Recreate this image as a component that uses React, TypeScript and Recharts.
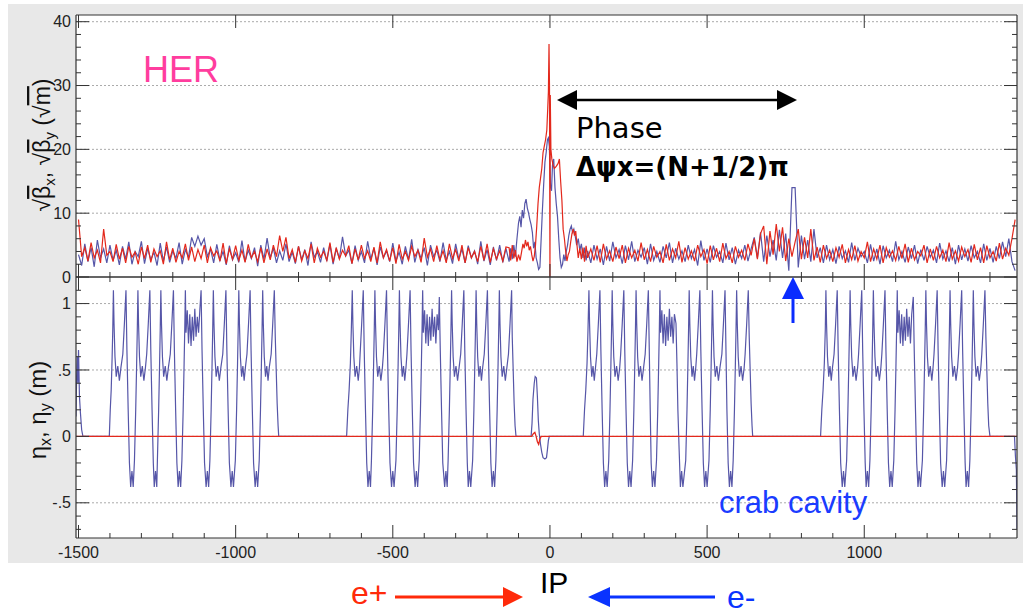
import React from "react";
import { LineChart, Line, XAxis, YAxis, ReferenceLine } from "recharts";

// s (m) measured from the IP
const S_DOMAIN: [number, number] = [-1508, 1486];
const X_MAJOR = [-1500, -1000, -500, 0, 500, 1000];
const X_MINOR = [
  -1500, -1400, -1300, -1200, -1100, -1000, -900, -800, -700, -600, -500, -400, -300, -200, -100,
  0, 100, 200, 300, 400, 500, 600, 700, 800, 900, 1000, 1100, 1200, 1300, 1400,
];

const BETA_DOMAIN: [number, number] = [0, 41.05];
const BETA_TICKS = [0, 2, 4, 6, 8, 10, 12, 14, 16, 18, 20, 22, 24, 26, 28, 30, 32, 34, 36, 38, 40];
const BETA_GRID = [10, 20, 30, 40];

const ETA_DOMAIN: [number, number] = [-0.765, 1.2];
const ETA_TICKS = [-0.7, -0.6, -0.5, -0.4, -0.3, -0.2, -0.1, 0, 0.1, 0.2, 0.3, 0.4, 0.5, 0.6, 0.7, 0.8, 0.9, 1, 1.1];
const ETA_GRID = [-0.5, 0, 0.5, 1];

// sqrt(beta) sampled every 10 m in the arcs
const BG_STEP = 10;
const LEFT_START = -1500; // ... -140
const RIGHT_START = 130; // ... 1480

const betaXLeft = [
  3.5, 1.8, 5.2, 2.4, 4.6, 1.6, 5.8, 3.0, 4.4, 2.2,
  5.0, 2.6, 4.2, 1.9, 4.8, 2.8, 5.5, 2.0, 4.0, 3.2,
  5.6, 2.1, 4.5, 2.7, 3.9, 1.8, 5.3, 2.5, 4.7, 2.3,
  4.1, 2.9, 5.4, 2.0, 4.3, 3.1, 6.2, 4.8, 6.4, 5.0,
  6.0, 3.2, 4.4, 2.2, 5.1, 2.6, 4.0, 1.9, 4.9, 2.7,
  3.8, 2.3, 5.7, 2.4, 4.2, 2.9, 4.6, 1.7, 5.0, 2.8,
  6.1, 3.0, 4.5, 2.2, 4.1, 2.6, 5.2, 2.4, 3.9, 2.1,
  4.8, 2.7, 4.3, 1.8, 5.5, 3.1, 4.0, 2.3, 4.6, 2.5,
  5.1, 2.0, 4.4, 2.9, 6.3, 3.3, 4.2, 2.1, 4.9, 2.6,
  4.0, 2.2, 5.6, 2.8, 4.5, 1.9, 4.7, 3.0, 4.1, 2.4,
  5.3, 2.5, 3.9, 2.0, 4.8, 2.7, 5.9, 2.3, 4.3, 2.9,
  4.6, 1.8, 5.0, 3.2, 4.2, 2.4, 5.4, 2.6, 4.0, 2.1,
  5.2, 2.8, 4.4, 2.2, 4.9, 3.0, 4.1, 2.0, 5.6, 2.5,
  4.3, 1.9, 4.7, 2.6, 5.0, 2.3, 4.5,
];

const betaYLeft = [
  9.0, 3.2, 4.6, 2.5, 5.4, 3.0, 4.2, 2.2, 7.5, 3.4,
  4.0, 2.4, 5.1, 2.8, 4.5, 2.2, 4.8, 3.1, 3.9, 2.0,
  4.7, 2.9, 5.0, 2.3, 4.4, 3.2, 4.1, 2.0, 5.5, 2.7,
  4.5, 2.3, 4.0, 3.0, 5.2, 2.6, 4.7, 2.4, 4.3, 2.9,
  5.0, 2.2, 4.6, 3.3, 4.1, 2.5, 5.3, 2.1, 4.4, 2.8,
  4.9, 2.6, 4.2, 2.3, 5.1, 3.0, 4.0, 2.4, 4.6, 2.2,
  4.4, 2.7, 5.0, 3.2, 6.5, 4.0, 6.2, 2.9, 4.3, 2.3,
  4.8, 2.5, 4.1, 2.9, 5.2, 2.2, 4.5, 3.1, 4.0, 2.6,
  5.4, 2.3, 4.6, 2.8, 4.2, 3.3, 4.9, 2.1, 4.4, 2.7,
  5.0, 2.9, 4.1, 2.4, 4.7, 2.2, 5.5, 3.0, 4.3, 2.5,
  4.6, 2.1, 5.1, 2.8, 4.0, 2.6, 4.8, 3.2, 4.2, 2.3,
  6.1, 3.1, 4.4, 2.4, 4.9, 2.7, 4.1, 2.2, 5.2, 2.9,
  4.3, 2.5, 5.0, 2.2, 4.6, 3.0, 4.0, 2.4, 4.8, 2.6,
  5.2, 2.3, 4.4, 2.8, 4.1, 2.5, 4.7,
];

// interaction region, [s, sqrt(beta)]
const betaXIR: [number, number][] = [
  [-130, 2.4], [-125, 4.5], [-120, 2.8], [-115, 5.0], [-110, 3.2], [-105, 6.0], [-100, 8.5], [-96, 9.5],
  [-92, 7.8], [-88, 10.5], [-84, 9.2], [-80, 11.5], [-76, 12.2], [-72, 10.8], [-68, 10.0], [-64, 9.0],
  [-60, 8.2], [-56, 7.0], [-52, 4.5], [-48, 5.5], [-44, 3.0], [-40, 2.2], [-36, 1.2], [-32, 1.5],
  [-28, 6.0], [-24, 10.5], [-20, 14.5], [-16, 18.0], [-12, 19.5], [-8, 21.5], [-5, 21.8], [-2, 20.5],
  [0, 17.0], [2, 14.0], [5, 13.5], [8, 17.5], [12, 18.5], [16, 14.0], [20, 11.5], [24, 9.5],
  [28, 6.0], [32, 3.0], [36, 1.5], [40, 2.0], [44, 3.5], [48, 2.5], [52, 4.0], [56, 5.0],
  [60, 6.5], [64, 7.5], [68, 8.0], [72, 7.0], [76, 7.5], [80, 6.5], [85, 5.0], [90, 6.0],
  [95, 4.2], [100, 5.2], [105, 3.0], [110, 4.6], [115, 2.6], [120, 4.1],
];

const betaYIR: [number, number][] = [
  [-130, 4.6], [-125, 2.6], [-120, 5.0], [-115, 2.9], [-110, 4.2], [-105, 2.4], [-100, 3.5], [-95, 2.6],
  [-90, 4.0], [-86, 5.2], [-82, 4.5], [-78, 5.8], [-74, 4.8], [-70, 5.5], [-66, 4.2], [-62, 4.8],
  [-58, 3.5], [-54, 2.5], [-50, 3.2], [-46, 5.0], [-42, 8.0], [-38, 11.5], [-34, 14.0], [-30, 15.5],
  [-26, 17.0], [-22, 19.5], [-18, 20.5], [-14, 21.5], [-10, 23.0], [-7, 26.5], [-5, 29.0], [-3, 36.5],
  [-1.5, 30.0], [0, 0], [1, 28.5], [3, 20.0], [6, 18.5], [10, 17.5], [14, 17.0], [18, 17.2],
  [22, 17.5], [26, 17.8], [30, 18.5], [34, 15.0], [38, 12.0], [42, 7.5], [46, 6.0], [50, 4.0],
  [54, 2.5], [58, 3.5], [62, 4.0], [66, 5.5], [70, 6.8], [74, 7.5], [78, 6.5], [82, 7.2],
  [86, 5.0], [90, 3.0], [95, 4.5], [100, 2.8], [105, 4.6], [110, 2.4], [115, 4.9], [120, 3.0],
];

const betaXRight = [
  2.2, 5.0, 2.8, 4.4, 1.9, 4.8, 2.5, 5.5, 3.0,
  4.3, 2.1, 4.9, 2.7, 5.6, 2.4, 4.2, 3.1, 4.6, 2.0,
  5.2, 2.6, 4.0, 2.3, 4.8, 3.0, 5.4, 2.2, 4.5, 2.8,
  4.1, 2.4, 5.0, 2.9, 4.3, 1.8, 5.7, 2.6, 4.4, 2.3,
  4.9, 3.1, 4.0, 2.2, 5.3, 2.7, 4.6, 2.0, 4.2, 2.9,
  5.0, 2.5, 4.4, 6.2, 3.0, 7.0, 2.4, 6.5, 3.2, 5.8,
  2.6, 7.4, 3.0, 6.8, 1.0, 14.0, 14.0, 1.5, 6.5, 2.8,
  5.8, 2.4, 7.5, 3.0, 4.6, 2.2, 5.0, 2.7, 4.3, 2.1,
  4.8, 2.9, 4.1, 2.3, 5.4, 2.6, 4.5, 3.2, 4.0, 2.2,
  5.1, 2.5, 4.4, 2.0, 4.9, 3.0, 4.2, 2.4, 5.6, 2.7,
  4.0, 2.3, 4.7, 2.9, 5.0, 2.1, 4.3, 2.6, 4.8, 3.1,
  4.2, 2.2, 5.3, 2.8, 4.1, 2.4, 4.6, 2.0, 5.0, 2.7,
  4.4, 2.5, 4.9, 3.0, 4.0, 2.2, 5.2, 2.6, 4.5, 2.3,
  4.8, 2.9, 5.5, 3.2, 6.0, 2.4, 1.0,
];

const betaYRight = [
  4.4, 2.6, 4.9, 2.3, 5.2, 2.8, 4.1, 2.4, 4.7,
  2.9, 5.0, 2.2, 4.5, 3.0, 4.2, 2.5, 5.4, 2.7, 4.3,
  2.4, 4.8, 3.1, 4.0, 2.2, 5.1, 2.6, 4.4, 3.0, 5.6,
  2.3, 4.6, 2.8, 4.1, 2.5, 5.0, 3.2, 4.3, 2.1, 4.9,
  2.7, 4.5, 2.4, 5.3, 2.9, 4.0, 2.2, 4.8, 3.1, 4.2,
  2.6, 5.2, 3.4, 6.0, 2.8, 6.8, 8.0, 2.0, 7.2, 3.5,
  8.3, 4.0, 7.8, 2.5, 6.0, 3.2, 5.5, 7.5, 2.8, 6.2,
  3.0, 7.5, 2.6, 4.7, 2.3, 5.0, 2.9, 4.2, 2.4, 4.6,
  3.1, 5.1, 2.2, 4.3, 2.7, 4.9, 2.5, 4.0, 3.0, 5.5,
  2.4, 4.4, 2.8, 5.0, 2.2, 4.6, 3.1, 4.1, 2.6, 4.8,
  2.9, 5.2, 2.3, 4.5, 2.7, 4.0, 3.3, 5.0, 2.2, 4.4,
  2.6, 4.8, 3.0, 4.2, 2.4, 5.4, 2.8, 4.1, 2.5, 4.7,
  3.2, 4.3, 2.3, 5.1, 2.7, 4.6, 2.2, 4.9, 3.0, 4.0,
  2.5, 5.3, 2.8, 4.5, 3.4, 6.0, 9.0,
];

// horizontal dispersion, [s, eta_x]
const etaXLeftEdge: [number, number][] = [
  [-1508, 0.15], [-1506, 0.45], [-1504, 0.6], [-1502, 0.4], [-1500, 0.65], [-1497, 0.3], [-1494, 0.18],
  [-1490, 0.05], [-1486, 0],
];

const etaXArc1: [number, number][] = [
  [-1402, 0], [-1399, 0.2], [-1396, 0.35], [-1393, 0.6], [-1391, 0.8],
  [-1389, 1.1], [-1387, 0.85], [-1384, 0.6], [-1380, 0.45], [-1375, 0.53], [-1370, 0.42], [-1365, 0.52], [-1359, 0.62], [-1354, 0.85], [-1349, 1.1],
  [-1346, 0.65], [-1342, 0.2], [-1338, -0.2], [-1334, -0.38], [-1330, -0.26], [-1326, -0.38], [-1322, -0.18], [-1318, 0.2], [-1315, 0.55], [-1313, 0.8],
  [-1311, 1.1], [-1309, 0.85], [-1306, 0.6], [-1302, 0.45], [-1297, 0.53], [-1292, 0.42], [-1287, 0.52], [-1283, 0.62], [-1278, 0.85], [-1273, 1.1],
  [-1270, 0.65], [-1266, 0.2], [-1262, -0.2], [-1259, -0.38], [-1255, -0.26], [-1251, -0.38], [-1249, -0.18], [-1245, 0.2], [-1242, 0.55], [-1240, 0.8],
  [-1238, 1.1], [-1236, 0.85], [-1233, 0.6], [-1229, 0.45], [-1224, 0.53], [-1219, 0.42], [-1214, 0.52], [-1208, 0.62], [-1203, 0.85], [-1198, 1.1],
  [-1195, 0.65], [-1191, 0.2], [-1187, -0.2], [-1183, -0.38], [-1179, -0.26], [-1175, -0.38], [-1171, -0.18], [-1167, 0.2], [-1164, 0.55], [-1162, 0.8],
  [-1160, 1.1], [-1158, 0.78], [-1154, 0.95], [-1150, 0.7], [-1146, 0.92], [-1142, 0.68], [-1138, 0.9], [-1134, 0.72], [-1130, 0.96], [-1126, 0.75], [-1122, 0.9], [-1118, 0.78], [-1114, 0.95], [-1110, 1.1],
  [-1107, 0.65], [-1103, 0.2], [-1099, -0.2], [-1094, -0.38], [-1090, -0.26], [-1086, -0.38], [-1082, -0.18], [-1078, 0.2], [-1075, 0.55], [-1073, 0.8],
  [-1071, 1.1], [-1069, 0.85], [-1066, 0.6], [-1062, 0.45], [-1057, 0.53], [-1052, 0.42], [-1047, 0.52], [-1041, 0.62], [-1036, 0.85], [-1031, 1.1],
  [-1028, 0.65], [-1024, 0.2], [-1020, -0.2], [-1015, -0.38], [-1011, -0.26], [-1007, -0.38], [-1001, -0.18], [-997, 0.2], [-994, 0.55], [-992, 0.8],
  [-990, 1.1], [-988, 0.85], [-985, 0.6], [-981, 0.45], [-977, 0.53], [-973, 0.42], [-969, 0.52], [-964, 0.62], [-959, 0.85], [-954, 1.1],
  [-951, 0.65], [-947, 0.2], [-943, -0.2], [-938, -0.38], [-934, -0.26], [-930, -0.38], [-925, -0.18], [-921, 0.2], [-918, 0.55], [-916, 0.8],
  [-914, 1.1], [-912, 0.85], [-909, 0.6], [-905, 0.45], [-901, 0.53], [-897, 0.42], [-893, 0.52], [-887, 0.62], [-882, 0.85], [-877, 1.1],
  [-874, 0.75], [-871, 0.5], [-868, 0.25], [-865, 0.08], [-863, 0],
];

const etaXArc2: [number, number][] = [
  [-647, 0], [-643, 0.2], [-639, 0.35], [-635, 0.55], [-632, 0.8],
  [-629, 1.1], [-627, 0.85], [-624, 0.6], [-620, 0.45], [-615, 0.53], [-610, 0.42], [-606, 0.52], [-604, 0.62], [-599, 0.85], [-594, 1.1],
  [-591, 0.65], [-587, 0.2], [-583, -0.2], [-579, -0.38], [-575, -0.26], [-571, -0.38], [-568, -0.18], [-564, 0.2], [-561, 0.55], [-559, 0.8],
  [-557, 1.1], [-555, 0.85], [-552, 0.6], [-548, 0.45], [-543, 0.53], [-538, 0.42], [-533, 0.52], [-530, 0.62], [-525, 0.85], [-520, 1.1],
  [-517, 0.65], [-513, 0.2], [-509, -0.2], [-504, -0.38], [-500, -0.26], [-496, -0.38], [-490, -0.18], [-486, 0.2], [-483, 0.55], [-481, 0.8],
  [-479, 1.1], [-477, 0.85], [-474, 0.6], [-470, 0.45], [-466, 0.53], [-462, 0.42], [-458, 0.52], [-455, 0.62], [-450, 0.85], [-445, 1.1],
  [-442, 0.65], [-438, 0.2], [-434, -0.2], [-429, -0.38], [-425, -0.26], [-421, -0.38], [-416, -0.18], [-412, 0.2], [-409, 0.55], [-407, 0.8],
  [-405, 1.1], [-403, 0.78], [-399, 0.95], [-395, 0.7], [-391, 0.92], [-387, 0.68], [-383, 0.9], [-379, 0.72], [-375, 0.96], [-371, 0.75], [-367, 0.9], [-363, 0.7], [-359, 0.92], [-355, 0.8], [-352, 1.05],
  [-349, 0.65], [-345, 0.2], [-341, -0.2], [-335, -0.38], [-331, -0.26], [-327, -0.38], [-324, -0.18], [-320, 0.2], [-317, 0.55], [-315, 0.8],
  [-313, 1.1], [-311, 0.85], [-308, 0.6], [-304, 0.45], [-299, 0.53], [-294, 0.42], [-289, 0.52], [-284, 0.62], [-279, 0.85], [-274, 1.1],
  [-271, 0.65], [-267, 0.2], [-263, -0.2], [-260, -0.38], [-256, -0.26], [-252, -0.38], [-246, -0.18], [-242, 0.2], [-239, 0.55], [-237, 0.8],
  [-235, 1.1], [-233, 0.85], [-230, 0.6], [-226, 0.45], [-222, 0.53], [-218, 0.42], [-214, 0.52], [-209, 0.62], [-204, 0.85], [-199, 1.1],
  [-196, 0.65], [-192, 0.2], [-188, -0.2], [-184, -0.38], [-180, -0.26], [-176, -0.38], [-172, -0.18], [-168, 0.2], [-165, 0.55], [-163, 0.8],
  [-161, 1.1], [-159, 0.85], [-156, 0.6], [-152, 0.45], [-147, 0.53], [-142, 0.42], [-137, 0.52], [-132, 0.62], [-127, 0.85], [-122, 1.1],
  [-120, 0.75], [-117, 0.5], [-114, 0.25], [-111, 0.08], [-108, 0],
];

const etaXIR: [number, number][] = [
  [-60, 0], [-57, 0.1], [-54, 0.28], [-50, 0.4], [-47, 0.45], [-43, 0.44], [-40, 0.3], [-37, 0.12], [-34, 0.02],
  [-30, -0.06], [-26, -0.12], [-22, -0.16], [-16, -0.17], [-11, -0.16], [-8, -0.1], [-5, -0.03], [-2, 0],
];

const etaXArc3: [number, number][] = [
  [106, 0], [110, 0.2], [114, 0.35], [118, 0.55], [121, 0.8],
  [124, 1.1], [126, 0.85], [129, 0.6], [133, 0.45], [137, 0.53], [141, 0.42], [145, 0.52], [149, 0.62], [154, 0.85], [159, 1.1],
  [162, 0.65], [166, 0.2], [170, -0.2], [174, -0.38], [178, -0.26], [182, -0.38], [187, -0.18], [191, 0.2], [194, 0.55], [196, 0.8],
  [198, 1.1], [200, 0.85], [203, 0.6], [207, 0.45], [212, 0.53], [217, 0.42], [222, 0.52], [225, 0.62], [230, 0.85], [235, 1.1],
  [238, 0.65], [242, 0.2], [246, -0.2], [250, -0.38], [254, -0.26], [258, -0.38], [263, -0.18], [267, 0.2], [270, 0.55], [272, 0.8],
  [274, 1.1], [276, 0.85], [279, 0.6], [283, 0.45], [288, 0.53], [293, 0.42], [298, 0.52], [303, 0.62], [308, 0.85], [313, 1.1],
  [316, 0.65], [319, 0.2], [322, -0.2], [326, -0.38], [330, -0.26], [334, -0.38], [339, -0.18], [343, 0.2], [346, 0.55], [348, 0.8],
  [350, 1.1], [352, 0.78], [356, 0.95], [360, 0.7], [364, 0.92], [368, 0.68], [372, 0.9], [376, 0.72], [380, 0.96], [384, 0.75], [388, 0.9], [392, 0.7], [396, 0.92], [401, 0.85],
  [404, 0.55], [407, 0.2], [411, -0.1], [415, -0.38], [419, -0.26], [423, -0.38], [432, -0.18], [436, 0.2], [439, 0.55], [441, 0.8],
  [443, 1.1], [445, 0.85], [448, 0.6], [452, 0.45], [456, 0.53], [460, 0.42], [464, 0.52], [467, 0.62], [472, 0.85], [477, 1.1],
  [480, 0.65], [484, 0.2], [488, -0.2], [492, -0.38], [496, -0.26], [500, -0.38], [506, -0.18], [510, 0.2], [513, 0.55], [515, 0.8],
  [517, 1.1], [519, 0.85], [522, 0.6], [526, 0.45], [531, 0.53], [536, 0.42], [541, 0.52], [547, 0.62], [552, 0.85], [557, 1.1],
  [560, 0.65], [563, 0.2], [567, -0.2], [571, -0.38], [575, -0.26], [579, -0.38], [583, -0.18], [587, 0.2], [590, 0.55], [592, 0.8],
  [594, 1.1], [596, 0.85], [599, 0.6], [603, 0.45], [608, 0.53], [613, 0.42], [618, 0.52], [621, 0.62], [626, 0.85], [631, 1.1],
  [634, 0.75], [637, 0.5], [640, 0.25], [643, 0.08], [645, 0],
];

const etaXArc4: [number, number][] = [
  [861, 0], [865, 0.2], [869, 0.35], [873, 0.55], [876, 0.8],
  [878, 1.1], [880, 0.85], [883, 0.6], [887, 0.45], [891, 0.53], [895, 0.42], [899, 0.52], [904, 0.62], [909, 0.85], [914, 1.1],
  [917, 0.65], [921, 0.2], [925, -0.2], [930, -0.38], [934, -0.26], [938, -0.38], [944, -0.18], [948, 0.2], [951, 0.55], [953, 0.8],
  [955, 1.1], [957, 0.85], [960, 0.6], [964, 0.45], [969, 0.53], [974, 0.42], [979, 0.52], [982, 0.62], [987, 0.85], [992, 1.1],
  [995, 0.65], [999, 0.2], [1003, -0.2], [1006, -0.38], [1010, -0.26], [1014, -0.38], [1018, -0.18], [1022, 0.2], [1025, 0.55], [1027, 0.8],
  [1029, 1.1], [1031, 0.85], [1034, 0.6], [1038, 0.45], [1043, 0.53], [1048, 0.42], [1053, 0.52], [1056, 0.62], [1061, 0.85], [1066, 1.1],
  [1069, 0.65], [1073, 0.2], [1077, -0.2], [1081, -0.38], [1085, -0.26], [1089, -0.38], [1094, -0.18], [1098, 0.2], [1101, 0.55], [1103, 0.8],
  [1105, 1.1], [1107, 0.78], [1111, 0.95], [1115, 0.7], [1119, 0.92], [1123, 0.68], [1127, 0.9], [1131, 0.72], [1135, 0.96], [1139, 0.75], [1143, 0.9], [1147, 0.7], [1151, 0.92], [1156, 1.05],
  [1159, 0.65], [1163, 0.2], [1167, -0.2], [1171, -0.38], [1175, -0.26], [1179, -0.38], [1185, -0.18], [1189, 0.2], [1192, 0.55], [1194, 0.8],
  [1196, 1.1], [1198, 0.85], [1201, 0.6], [1205, 0.45], [1210, 0.53], [1215, 0.42], [1219, 0.52], [1222, 0.62], [1227, 0.85], [1232, 1.1],
  [1235, 0.65], [1239, 0.2], [1243, -0.2], [1248, -0.38], [1252, -0.26], [1256, -0.38], [1262, -0.18], [1266, 0.2], [1269, 0.55], [1271, 0.8],
  [1273, 1.1], [1275, 0.85], [1278, 0.6], [1282, 0.45], [1287, 0.53], [1292, 0.42], [1297, 0.52], [1300, 0.62], [1305, 0.85], [1310, 1.1],
  [1313, 0.65], [1317, 0.2], [1321, -0.2], [1324, -0.38], [1328, -0.26], [1332, -0.38], [1336, -0.18], [1340, 0.2], [1343, 0.55], [1345, 0.8],
  [1347, 1.1], [1349, 0.85], [1352, 0.6], [1356, 0.45], [1361, 0.53], [1366, 0.42], [1371, 0.52], [1374, 0.62], [1379, 0.85], [1384, 1.1],
  [1387, 0.75], [1390, 0.5], [1393, 0.25], [1396, 0.08], [1400, 0],
];

const etaXRightEdge: [number, number][] = [[1478, 0], [1481, -0.15], [1484, -0.25], [1486, -0.7]];

// vertical dispersion, [s, eta_y]
const etaY: [number, number][] = [
  [-1508, 0], [-58, 0], [-53, 0.02], [-48, 0.03], [-44, 0], [-40, -0.04], [-36, -0.06], [-32, -0.02], [-28, 0], [1486, 0],
];

const BLUE = "#5656a8";
const RED = "#e3281c";
const AXIS = "#333";
const GRID = "#aaaaaa";
const FONT = "'Liberation Sans', Arial, Helvetica, sans-serif";

const onGrid = (start: number, vals: number[]) => vals.map((y, i) => ({ x: start + i * BG_STEP, y }));
const pairs = (p: [number, number][]) => p.map(([x, y]) => ({ x, y }));

const betaX = [...onGrid(LEFT_START, betaXLeft), ...pairs(betaXIR), ...onGrid(RIGHT_START, betaXRight)];
const betaY = [...onGrid(LEFT_START, betaYLeft), ...pairs(betaYIR), ...onGrid(RIGHT_START, betaYRight)];
const etaX = pairs([
  ...etaXLeftEdge, ...etaXArc1, ...etaXArc2, ...etaXIR, ...etaXArc3, ...etaXArc4, ...etaXRightEdge,
]);
const etaYData = pairs(etaY);

function XTick(props: any) {
  const { x, y, payload, up = 0, down = 0, upMinor = 0, downMinor = 0, label = false } = props;
  const v = payload.value;
  const major = v % 500 === 0;
  const u = major ? up : upMinor;
  const d = major ? down : downMinor;
  return (
    <g>
      {u + d > 0 && <line x1={x} x2={x} y1={y - u} y2={y + d} stroke={AXIS} />}
      {label && major && (
        <text x={x} y={y + 20} textAnchor="middle" fontSize={16} fontFamily={FONT} fill="#222">
          {v}
        </text>
      )}
    </g>
  );
}

function YTick(props: any) {
  const { x, y, payload, side, step, fmt } = props;
  const v = payload.value;
  const major = Math.abs(v / step - Math.round(v / step)) < 1e-6;
  const len = major ? 13 : 5;
  const x2 = side === "left" ? x + len : x - len;
  return (
    <g>
      <line x1={x} x2={x2} y1={y} y2={y} stroke={AXIS} />
      {fmt && major && (
        <text x={x - 5} y={y} dy="0.35em" textAnchor="end" fontSize={16} fontFamily={FONT} fill="#222">
          {fmt(v)}
        </text>
      )}
    </g>
  );
}

const fmtEta = (v: number) => {
  if (Math.abs(v) < 1e-9) return "0";
  if (Math.abs(v - 1) < 1e-9) return "1";
  return (v < 0 ? "-" : "") + "." + String(Math.round(Math.abs(v) * 10));
};

const axisCommon = {
  type: "number" as const,
  allowDataOverflow: true,
  tickSize: 0,
  tickMargin: 0,
  tickLine: false,
  interval: 0 as const,
  axisLine: { stroke: AXIS, strokeWidth: 1.2 },
};

// axes are 1px thick so that recharts still draws them; margins make up for it
function BetaPanel() {
  return (
    <LineChart width={1023} height={300} margin={{ top: 14, right: 5, bottom: 22, left: 75 }}>
      <XAxis {...axisCommon} xAxisId="b" dataKey="x" domain={S_DOMAIN} ticks={X_MINOR} height={1}
        tick={<XTick up={13} upMinor={5} />} />
      <XAxis {...axisCommon} xAxisId="t" orientation="top" dataKey="x" domain={S_DOMAIN} ticks={X_MAJOR} height={1}
        tick={<XTick down={13} />} />
      <YAxis {...axisCommon} yAxisId="l" domain={BETA_DOMAIN} ticks={BETA_TICKS} width={1}
        tick={<YTick side="left" step={10} fmt={(v: number) => String(v)} />} />
      <YAxis {...axisCommon} yAxisId="r" orientation="right" domain={BETA_DOMAIN} ticks={BETA_TICKS} width={1}
        tick={<YTick side="right" step={10} />} />
      {BETA_GRID.map((g) => (
        <ReferenceLine key={g} y={g} xAxisId="b" yAxisId="l" stroke={GRID} strokeDasharray="2 2" />
      ))}
      <Line xAxisId="b" yAxisId="l" data={betaX} dataKey="y" type="linear" stroke={BLUE} strokeWidth={1.2}
        dot={false} isAnimationActive={false} />
      <Line xAxisId="b" yAxisId="l" data={betaY} dataKey="y" type="linear" stroke={RED} strokeWidth={1.2}
        dot={false} isAnimationActive={false} />
    </LineChart>
  );
}

function EtaPanel() {
  return (
    <LineChart width={1023} height={354} margin={{ top: 16, right: 5, bottom: 75, left: 75 }}>
      <XAxis {...axisCommon} xAxisId="b" dataKey="x" domain={S_DOMAIN} ticks={X_MINOR} height={1}
        tick={<XTick up={13} upMinor={5} label />} />
      <XAxis {...axisCommon} xAxisId="t" orientation="top" dataKey="x" domain={S_DOMAIN} ticks={X_MINOR} height={1}
        tick={<XTick down={13} downMinor={5} />} />
      <YAxis {...axisCommon} yAxisId="l" domain={ETA_DOMAIN} ticks={ETA_TICKS} width={1}
        tick={<YTick side="left" step={0.5} fmt={fmtEta} />} />
      <YAxis {...axisCommon} yAxisId="r" orientation="right" domain={ETA_DOMAIN} ticks={ETA_TICKS} width={1}
        tick={<YTick side="right" step={0.5} />} />
      {ETA_GRID.map((g) => (
        <ReferenceLine key={g} y={g} xAxisId="b" yAxisId="l" stroke={GRID} strokeDasharray="2 2" />
      ))}
      <Line xAxisId="b" yAxisId="l" data={etaX} dataKey="y" type="linear" stroke={BLUE} strokeWidth={1.2}
        dot={false} isAnimationActive={false} />
      <Line xAxisId="b" yAxisId="l" data={etaYData} dataKey="y" type="linear" stroke={RED} strokeWidth={1.3}
        dot={false} isAnimationActive={false} />
    </LineChart>
  );
}

export default function App() {
  return (
    <div style={{ position: "absolute", left: 0, top: 0, width: 1023, height: 614, background: "#fff", overflow: "hidden" }}>
      <div style={{ position: "absolute", left: 8, top: 4, width: 1015, height: 559, background: "#e8e8e8" }} />
      <div style={{ position: "absolute", left: 76, top: 15, width: 941, height: 523, background: "#fff" }} />
      <div style={{ position: "absolute", left: 0, top: 0 }}>
        <BetaPanel />
      </div>
      <div style={{ position: "absolute", left: 0, top: 260 }}>
        <EtaPanel />
      </div>
      <svg width={1023} height={614} style={{ position: "absolute", left: 0, top: 0, pointerEvents: "none" }}>
        {/* axis titles */}
        <text transform="translate(50,145) rotate(-90)" textAnchor="middle" fontSize={23} fontFamily={FONT} fill="#111">
          <tspan>√</tspan>
          <tspan style={{ textDecoration: "overline" }}>β</tspan>
          <tspan dy={5} fontSize={15}>x</tspan>
          <tspan dy={-5}>, √</tspan>
          <tspan style={{ textDecoration: "overline" }}>β</tspan>
          <tspan dy={5} fontSize={15}>y</tspan>
          <tspan dy={-5}> (√</tspan>
          <tspan style={{ textDecoration: "overline" }}>m</tspan>
          <tspan>)</tspan>
        </text>
        <text transform="translate(46,410) rotate(-90)" textAnchor="middle" fontSize={24} fontFamily={FONT} fill="#111">
          <tspan>η</tspan>
          <tspan dy={5} fontSize={16}>x</tspan>
          <tspan dy={-5}>, η</tspan>
          <tspan dy={5} fontSize={16}>y</tspan>
          <tspan dy={-5}> (m)</tspan>
        </text>

        <text x={143} y={82} fontSize={36} fontFamily={FONT} fill="#ff3d9e">HER</text>

        {/* phase advance arrow */}
        <line x1={574} x2={780} y1={100} y2={100} stroke="#000" strokeWidth={2.5} />
        <polygon points="557,100 577,90 577,110" fill="#000" />
        <polygon points="797,100 777,90 777,110" fill="#000" />
        <text x={576} y={138} fontSize={29} fontFamily="'DejaVu Sans', sans-serif" fill="#000">Phase</text>
        <text x={576} y={176} fontSize={26} fontWeight="bold" fontFamily="'DejaVu Sans', sans-serif" fill="#000">
          Δψx=(N+1/2)π
        </text>

        {/* crab cavity marker */}
        <line x1={793} x2={793} y1={296} y2={323} stroke="#0a2cff" strokeWidth={3} />
        <polygon points="793,277 782,299 804,299" fill="#0a2cff" />
        <text x={719} y={513} fontSize={31} fontFamily={FONT} fill="#1a3cff">crab cavity</text>

        {/* beams */}
        <text x={351} y={604} fontSize={32} fontFamily={FONT} fill="#ff2a0a">e+</text>
        <line x1={395} x2={505} y1={597} y2={597} stroke="#ff2a0a" strokeWidth={3} />
        <polygon points="523,597 503,587 503,607" fill="#ff2a0a" />
        <text x={540} y={593} fontSize={30} fontFamily={FONT} fill="#000">IP</text>
        <polygon points="588,597 610,587 610,607" fill="#0a33ff" />
        <line x1={608} x2={715} y1={597} y2={597} stroke="#0a33ff" strokeWidth={3} />
        <text x={727} y={608} fontSize={32} fontFamily={FONT} fill="#0a33ff">e-</text>
      </svg>
    </div>
  );
}
